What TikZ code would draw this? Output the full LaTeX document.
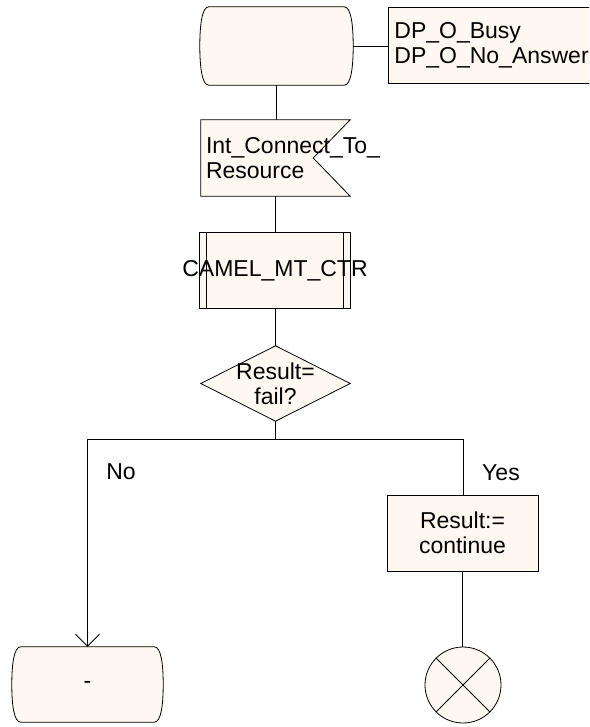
\documentclass[tikz,border=0pt]{standalone}
\usepackage{fontspec}
\setmainfont{Liberation Sans}
\usetikzlibrary{calc,backgrounds,arrows.meta}
\definecolor{sdlfill}{HTML}{FFF8F0}

% SDL state symbol: straight top and bottom, outward-bulging sides
\newcommand\sdlstate[1]{%
  \filldraw[outline]
    ($(#1.north west)+(9,0)$) -- ($(#1.north east)+(-9,0)$)
    .. controls ($(#1.north east)+(-2,0)$) and ($(#1.east)+(0,-20)$) .. (#1.east)
    .. controls ($(#1.east)+(0,20)$) and ($(#1.south east)+(-2,0)$) .. ($(#1.south east)+(-9,0)$)
    -- ($(#1.south west)+(9,0)$)
    .. controls ($(#1.south west)+(2,0)$) and ($(#1.west)+(0,20)$) .. (#1.west)
    .. controls ($(#1.west)+(0,-20)$) and ($(#1.north west)+(2,0)$) .. cycle;}

\begin{document}
\begin{tikzpicture}[x=1pt,y=-1pt,
  every node/.style={font=\fontsize{23}{25}\selectfont, inner sep=0pt},
  outline/.style={draw=black, fill=sdlfill, line width=0.8pt},
  conn/.style={draw=black, line width=0.75pt},
  sdlframe/.style={minimum width=#1, minimum height=76pt},
  openarrow/.style={-{Straight Barb[length=12pt,width=24pt,line width=0.75pt]}},
]
\path[use as bounding box, clip] (0,0) rectangle (589,727);

% symbols
\node[sdlframe=153pt, minimum height=78pt] (start) at (276.5,46) {};
\node[outline, sdlframe=240pt, anchor=north west, text width=228pt,
      inner xsep=6pt, align=left] (dp) at (388,7) {DP\_O\_Busy\\DP\_O\_No\_Answer};
\node[sdlframe=149pt, text width=139pt, inner xsep=5pt, align=left] (sig)
      at (275.5,158) {Int\_Connect\_To\_\\Resource};
\node[sdlframe=150pt, minimum height=75pt] (proc) at (275,270.5) {\makebox[0pt]{CAMEL\_MT\_CTR}};
\node[sdlframe=149pt, minimum height=75pt, align=center] (dec) at (275.5,383.5) {Result=\\fail?};
\node[outline, sdlframe=151pt, align=center] (task) at (462.5,533) {Result:=\\continue};
\node[outline, circle, minimum size=76pt] (stop) at (463,685) {};
\node[sdlframe=151pt, minimum height=75pt] (ret) at (87.5,684.5) {-};
\node (no) at (121,472) {No};
\node (yes) at (501,473) {Yes};

\begin{scope}[on background layer]
  \sdlstate{start}
  \sdlstate{ret}
  % input signal with notch on the right
  \filldraw[outline] (sig.north west) -- (sig.north east) -- ($(sig.east)+(-37,0)$)
    -- (sig.south east) -- (sig.south west) -- cycle;
  % procedure call box with inner side bars
  \filldraw[outline] (proc.north west) rectangle (proc.south east);
  \draw[outline] ($(proc.north west)+(7,0)$) -- ($(proc.south west)+(7,0)$);
  \draw[outline] ($(proc.north east)+(-7,0)$) -- ($(proc.south east)+(-7,0)$);
  % decision
  \filldraw[outline] (dec.west) -- (dec.north) -- (dec.east) -- (dec.south) -- cycle;
\end{scope}

% stop cross
\draw[conn] (stop.north west) -- (stop.south east);
\draw[conn] (stop.north east) -- (stop.south west);

% connectors
\coordinate (bl) at (87.5,439);
\coordinate (brr) at (463,439);
\draw[conn] (start.east) -- (start.east -| dp.west);
\draw[conn] (start.south) -- (start.south |- sig.north);
\draw[conn] (sig.south) -- (sig.south |- proc.north);
\draw[conn] (proc.south) -- (proc.south |- dec.north);
\draw[conn] (dec.south) -- (dec.south |- bl);
\draw[conn] (bl) -- (brr);
\draw[conn, openarrow] (bl) -- (ret.north);
\draw[conn] (brr) -- (brr |- task.north);
\draw[conn] (task.south) -- (task.south |- stop.north);
\end{tikzpicture}
\end{document}
